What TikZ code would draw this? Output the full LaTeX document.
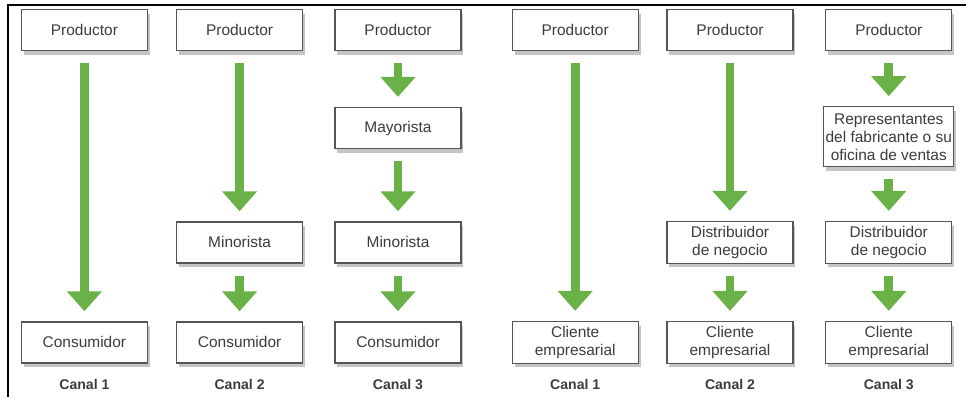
\documentclass[tikz,border=0pt]{standalone}
\usepackage{fontspec}
\setmainfont{Liberation Sans}
\usetikzlibrary{arrows.meta,shadows}
\definecolor{flechaverde}{RGB}{106,178,72}
\definecolor{textogris}{RGB}{60,60,60}
\definecolor{bordegris}{RGB}{85,85,85}

\begin{document}
\begin{tikzpicture}
	\tikzstyle{every node}=[font=\fontsize{11}{12.8}\selectfont,text=textogris];
	\tikzstyle{caja}=[draw=bordegris,fill=white,line width=0.9pt,minimum width=3.15cm,minimum height=1.025cm,align=center,inner xsep=1pt,drop shadow={shadow xshift=0.6mm,shadow yshift=-1mm,fill=black!45,opacity=0.5}];
	\tikzstyle{canal}=[font=\fontsize{10}{12}\selectfont\bfseries];
	\tikzstyle{flecha}=[draw=flechaverde,line width=0.22cm,-{Triangle[length=0.5cm,width=0.85cm]},shorten <=0.3cm,shorten >=0.25cm];

	\useasboundingbox (0,0) rectangle (24.15,-9.925);
	\draw[line width=1.4pt] (0.19,-9.925) -- (0.19,-0.125) -- (24.15,-0.125);

	% consumidor, canal 1
	\node at (2.11, -0.75)  (p1) [caja] {Productor};
	\node at (2.11, -8.56)  (k1) [caja] {Consumidor};
	\node at (2.11, -9.62)  (c1) [canal] {Canal 1};

	% consumidor, canal 2
	\node at (5.99, -0.75)  (p2) [caja] {Productor};
	\node at (5.99, -6.06)  (m2) [caja] {Minorista};
	\node at (5.99, -8.56)  (k2) [caja] {Consumidor};
	\node at (5.99, -9.62)  (c2) [canal] {Canal 2};

	% consumidor, canal 3
	\node at (9.95, -0.75)  (p3) [caja] {Productor};
	\node at (9.95, -3.2)   (y3) [caja] {Mayorista};
	\node at (9.95, -6.06)  (m3) [caja] {Minorista};
	\node at (9.95, -8.56)  (k3) [caja] {Consumidor};
	\node at (9.95, -9.62)  (c3) [canal] {Canal 3};

	% empresarial, canal 1
	\node at (14.38, -0.75) (p4) [caja] {Productor};
	\node at (14.38, -8.56) (e4) [caja] {Cliente\\empresarial};
	\node at (14.38, -9.62) (c4) [canal] {Canal 1};

	% empresarial, canal 2
	\node at (18.25, -0.75) (p5) [caja] {Productor};
	\node at (18.25, -6.06) (d5) [caja] {Distribuidor\\de negocio};
	\node at (18.25, -8.56) (e5) [caja] {Cliente\\empresarial};
	\node at (18.25, -9.62) (c5) [canal] {Canal 2};

	% empresarial, canal 3
	\node at (22.22, -0.75) (p6) [caja] {Productor};
	\node at (22.22, -3.42) (r6) [caja,minimum width=3.25cm,minimum height=1.5cm] {Representantes\\del fabricante o su\\oficina de ventas};
	\node at (22.22, -6.06) (d6) [caja] {Distribuidor\\de negocio};
	\node at (22.22, -8.56) (e6) [caja] {Cliente\\empresarial};
	\node at (22.22, -9.62) (c6) [canal] {Canal 3};

	\draw[flecha] (p1) to (k1);
	\draw[flecha] (p2) to (m2);
	\draw[flecha] (m2) to (k2);
	\draw[flecha] (p3) to (y3);
	\draw[flecha] (y3) to (m3);
	\draw[flecha] (m3) to (k3);
	\draw[flecha] (p4) to (e4);
	\draw[flecha] (p5) to (d5);
	\draw[flecha] (d5) to (e5);
	\draw[flecha] (p6) to (r6);
	\draw[flecha] (r6) to (d6);
	\draw[flecha] (d6) to (e6);
\end{tikzpicture}
\end{document}
